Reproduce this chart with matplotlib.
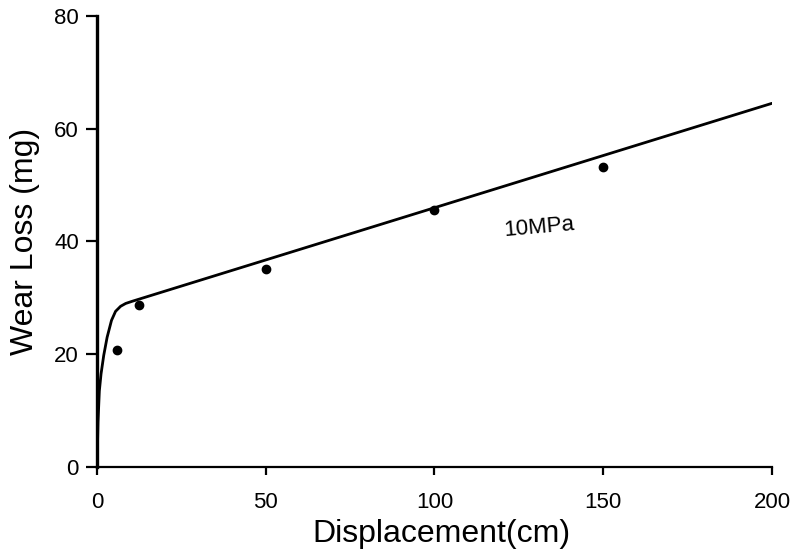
import numpy as np
import matplotlib.pyplot as plt

plt.rcParams["font.family"] = ["Liberation Sans", "DejaVu Sans"]

# measured wear loss points
disp_pts = [6, 12.5, 50, 100, 150]
wear_pts = [20.7, 28.7, 35.1, 45.6, 53.2]

# fitted curve
curve_x = [0, 0.3, 0.7, 1.2, 2.0, 3.0, 4.3, 5.5, 7.0, 8.5, 10.5, 200]
curve_y = [0, 8.0, 13.5, 16.5, 19.8, 23.0, 26.0, 27.6, 28.5, 29.0, 29.4, 64.5]

x_ticks = [0, 50, 100, 150, 200]
y_ticks = [0, 20, 40, 60, 80]

fig = plt.figure(figsize=(7.95, 5.5), dpi=100)
ax = fig.add_axes([0.122, 0.151, 0.849, 0.820])

ax.plot(curve_x, curve_y, color="black", lw=2.0, solid_capstyle="round")
ax.plot(disp_pts, wear_pts, "o", color="black", ms=6)

ax.text(131, 42.4, "10MPa", fontsize=16, rotation=5, ha="center", va="center")

ax.set_xlim(0, 200)
ax.set_ylim(0, 80)
ax.set_xticks(x_ticks)
ax.set_yticks(y_ticks)

for s in ["top", "right"]:
    ax.spines[s].set_visible(False)
ax.spines["left"].set_linewidth(2.4)
ax.spines["bottom"].set_linewidth(1.6)

ax.tick_params(axis="y", direction="out", length=8, width=1.6, labelsize=16, pad=5)
ax.tick_params(axis="x", direction="out", length=6, width=1.6, labelsize=16, pad=12)

ax.set_xlabel("Displacement(cm)", fontsize=23, labelpad=3)
ax.xaxis.set_label_coords(0.51, -0.115)
ax.set_ylabel("Wear Loss (mg)", fontsize=23, labelpad=10)

fig.savefig("out.png", dpi=100)
